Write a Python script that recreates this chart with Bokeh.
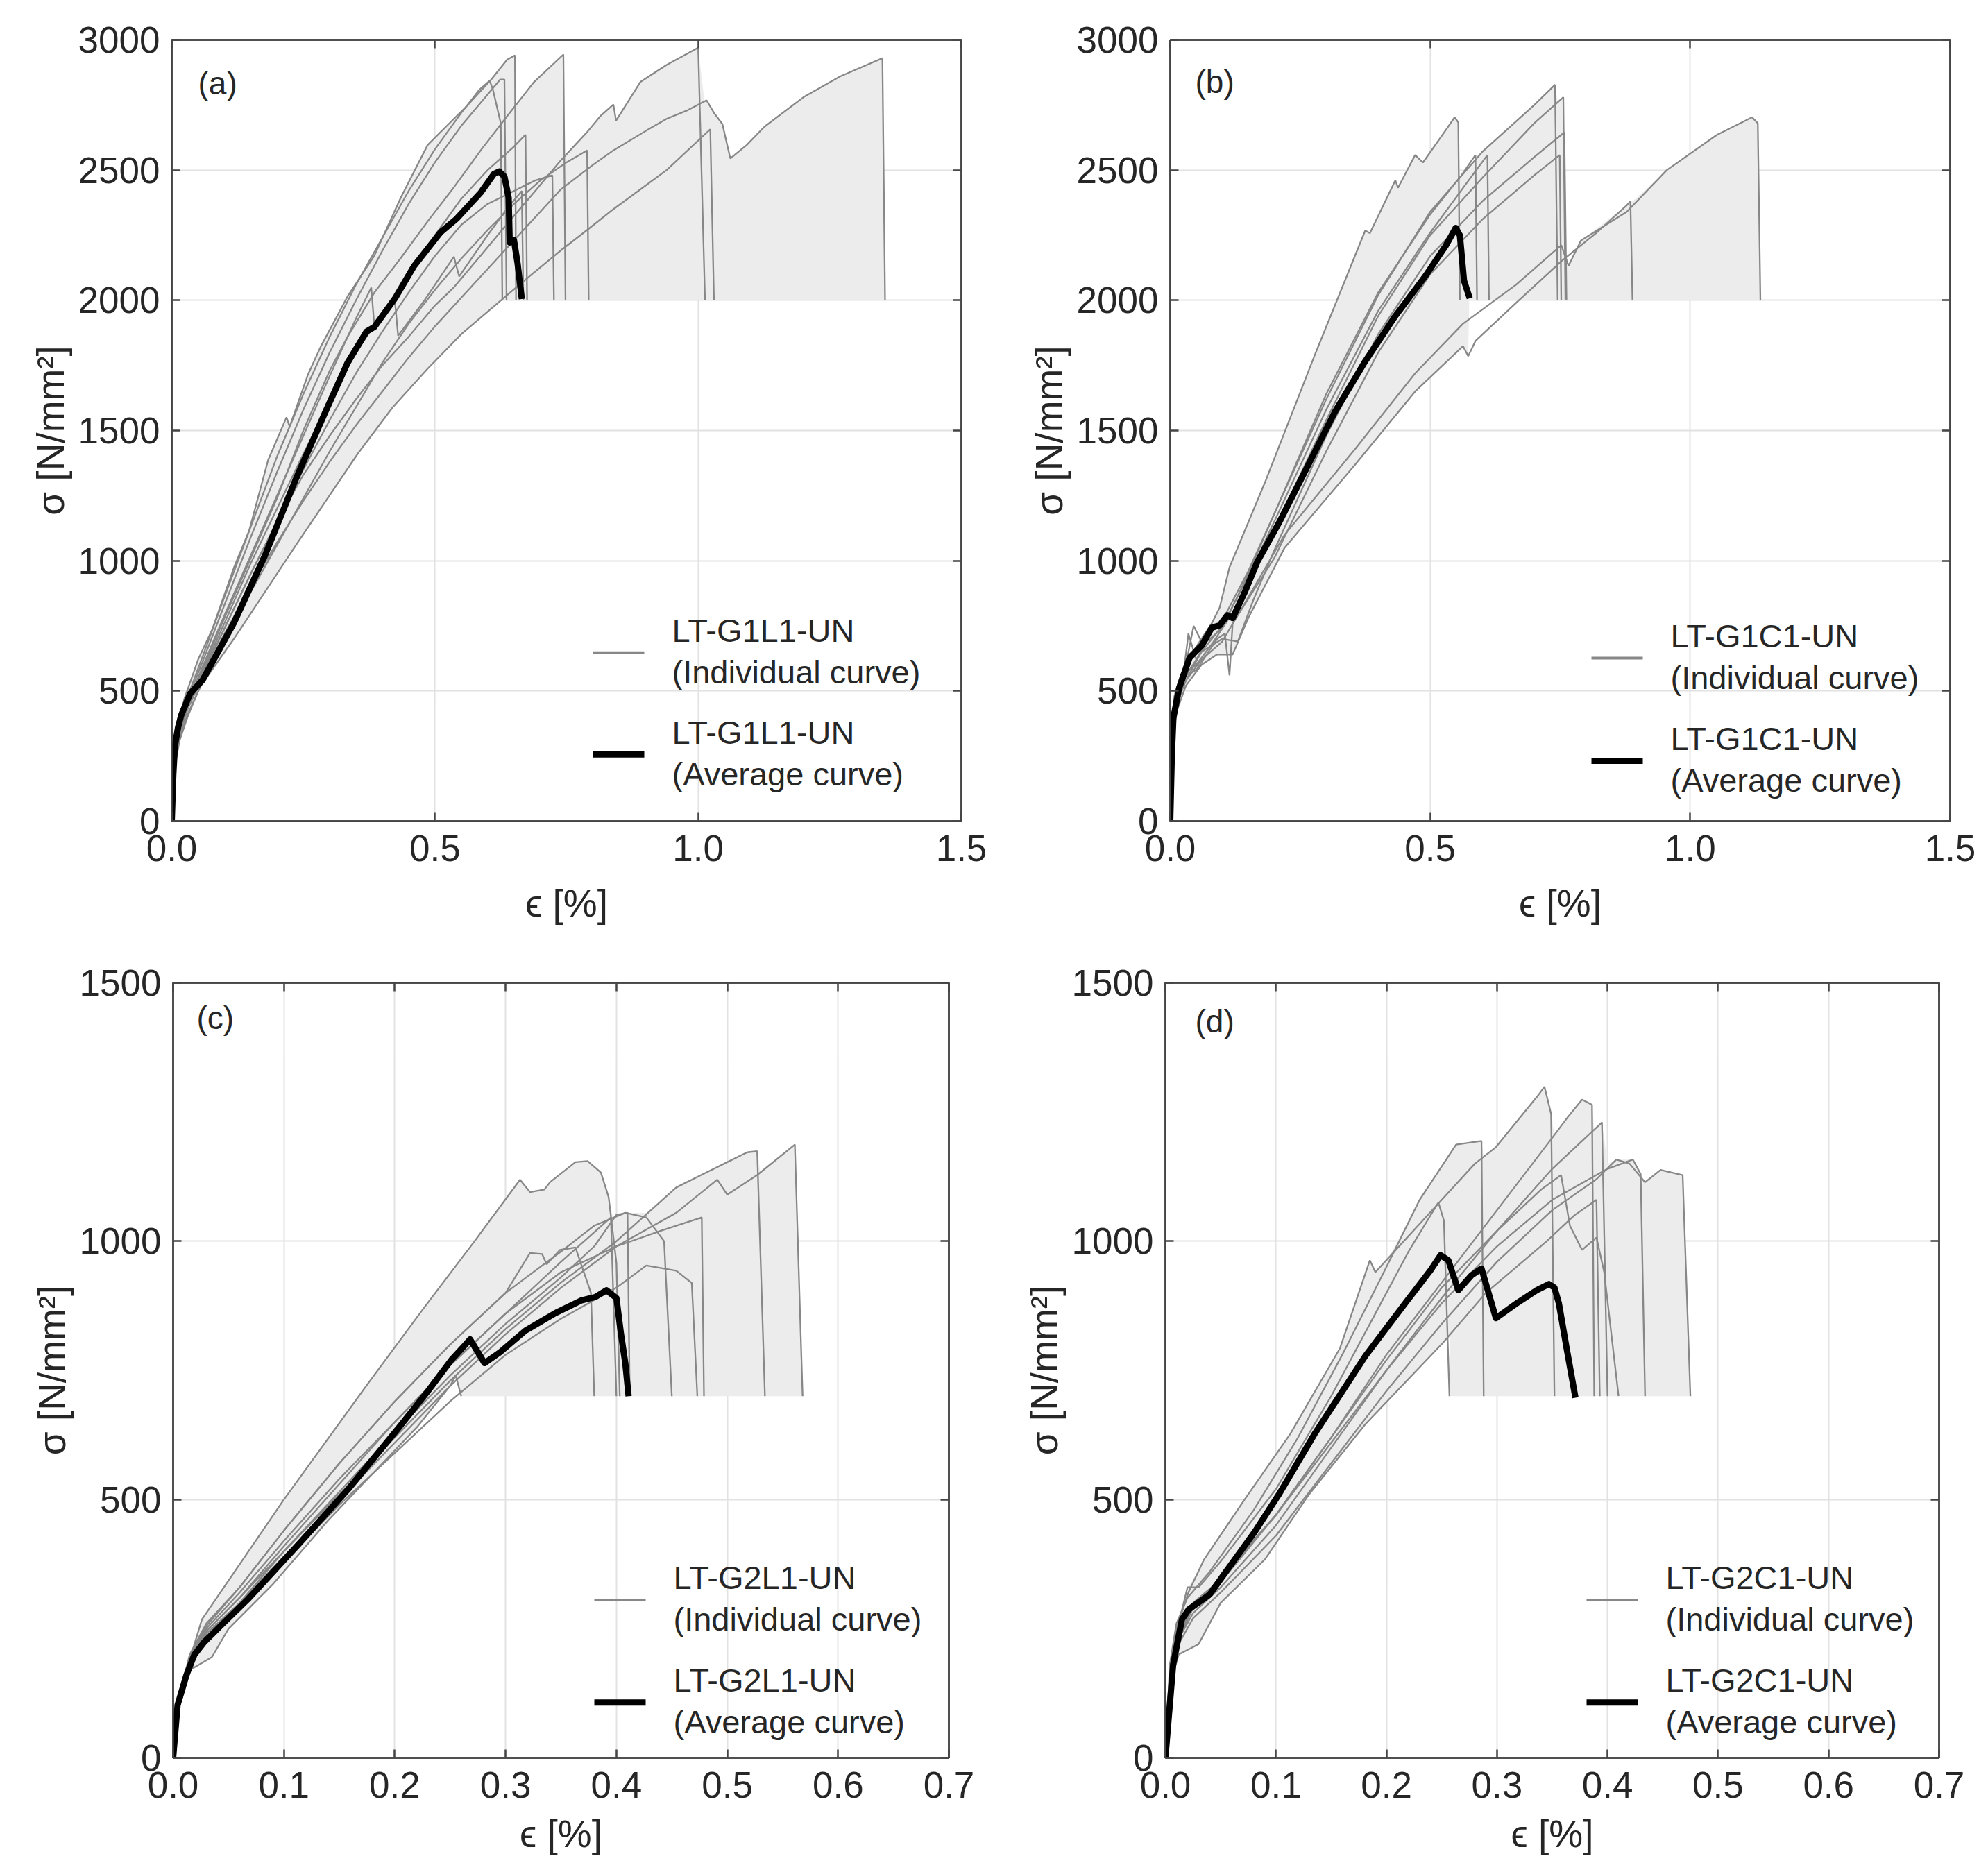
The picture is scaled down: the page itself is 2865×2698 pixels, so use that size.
from bokeh.plotting import figure
from bokeh.models import Range1d, FixedTicker, LinearAxis, Label, BoxAnnotation, NumeralTickFormatter
from bokeh.layouts import column, row
from bokeh.embed import file_html
from bokeh.resources import INLINE

# ---- data (strain in %, stress in N/mm2) ----

# tick values
G1_EPS_TICKS = [0.0, 0.5, 1.0, 1.5]
G1_SIG_TICKS = [0, 500, 1000, 1500, 2000, 2500, 3000]
G2_EPS_TICKS = [0.0, 0.1, 0.2, 0.3, 0.4, 0.5, 0.6, 0.7]
G2_SIG_TICKS = [0, 500, 1000, 1500]

SERIES_NAMES = ["LT-G1L1-UN", "LT-G1C1-UN", "LT-G2L1-UN", "LT-G2C1-UN"]
PANEL_TAGS = ["(a)", "(b)", "(c)", "(d)"]

# (a) LT-G1L1-UN individual curves
A_IND_EPS = [
    [0, 0.005, 0.012, 0.024, 0.05, 0.077, 0.118, 0.147, 0.183, 0.218, 0.224, 0.259, 0.283, 0.334, 0.385, 0.435, 0.486, 0.516, 0.561, 0.607, 0.637, 0.652, 0.654],
    [0, 0.005, 0.012, 0.025, 0.06, 0.1, 0.15, 0.2, 0.25, 0.3, 0.35, 0.4, 0.45, 0.5, 0.55, 0.585, 0.604, 0.61, 0.625, 0.628],
    [0, 0.005, 0.012, 0.025, 0.06, 0.1, 0.15, 0.2, 0.25, 0.3, 0.35, 0.4, 0.45, 0.5, 0.55, 0.6, 0.624, 0.632, 0.636],
    [0, 0.005, 0.012, 0.03, 0.06, 0.1, 0.15, 0.2, 0.25, 0.3, 0.334, 0.385, 0.435, 0.486, 0.536, 0.587, 0.637, 0.688, 0.744, 0.748],
    [0, 0.005, 0.012, 0.03, 0.06, 0.1, 0.15, 0.2, 0.25, 0.3, 0.35, 0.4, 0.45, 0.5, 0.536, 0.587, 0.637, 0.688, 0.738, 0.789, 0.814, 0.839, 0.844, 0.89, 0.94, 1.0, 1.013],
    [0, 0.005, 0.012, 0.03, 0.06, 0.1, 0.15, 0.2, 0.25, 0.3, 0.35, 0.4, 0.45, 0.5, 0.55, 0.6, 0.65, 0.7, 0.738, 0.8, 0.839, 0.9, 0.94, 0.98, 1.016, 1.031, 1.046, 1.061, 1.092, 1.126, 1.2, 1.27, 1.35, 1.355],
    [0, 0.005, 0.015, 0.03, 0.053, 0.118, 0.236, 0.353, 0.42, 0.486, 0.55, 0.637, 0.69, 0.738, 0.789, 0.839, 0.94, 1.023, 1.03],
    [0, 0.005, 0.012, 0.03, 0.06, 0.1, 0.15, 0.2, 0.25, 0.3, 0.35, 0.379, 0.385, 0.43, 0.5, 0.55, 0.6, 0.65, 0.672, 0.675],
    [0, 0.005, 0.015, 0.03, 0.06, 0.1, 0.15, 0.2, 0.25, 0.3, 0.35, 0.4, 0.424, 0.43, 0.48, 0.536, 0.546, 0.6, 0.64, 0.665, 0.668],
    [0, 0.005, 0.015, 0.03, 0.06, 0.1, 0.15, 0.2, 0.25, 0.3, 0.35, 0.4, 0.45, 0.5, 0.55, 0.6, 0.65, 0.7, 0.75, 0.789, 0.792],
    [0, 0.005, 0.015, 0.03, 0.06, 0.1, 0.15, 0.2, 0.25, 0.3, 0.35, 0.4, 0.45, 0.5, 0.55, 0.6, 0.65, 0.69, 0.723, 0.726],
]
A_IND_SIG = [
    [0, 260, 360, 470, 620, 737, 973, 1115, 1386, 1551, 1515, 1716, 1822, 2015, 2172, 2394, 2596, 2657, 2747, 2848, 2924, 2941, 2000],
    [0, 250, 350, 450, 640, 860, 1130, 1400, 1640, 1860, 2060, 2240, 2420, 2580, 2720, 2810, 2843, 2810, 2680, 2000],
    [0, 240, 340, 440, 620, 830, 1090, 1340, 1580, 1800, 2000, 2190, 2370, 2530, 2670, 2790, 2848, 2848, 2000],
    [0, 230, 330, 450, 590, 780, 1010, 1240, 1500, 1730, 1860, 2030, 2162, 2303, 2434, 2576, 2707, 2838, 2944, 2000],
    [0, 230, 330, 440, 570, 740, 950, 1150, 1330, 1480, 1620, 1750, 1860, 1980, 2050, 2172, 2293, 2414, 2535, 2646, 2707, 2752, 2690, 2838, 2904, 2970, 2000],
    [0, 220, 320, 430, 560, 720, 900, 1070, 1230, 1380, 1520, 1650, 1780, 1900, 2010, 2120, 2230, 2340, 2424, 2520, 2576, 2650, 2697, 2730, 2768, 2717, 2677, 2545, 2596, 2667, 2780, 2860, 2930, 2000],
    [0, 200, 310, 400, 513, 700, 1060, 1410, 1590, 1737, 1870, 2020, 2110, 2190, 2270, 2350, 2500, 2657, 2000],
    [0, 240, 340, 450, 600, 790, 1020, 1250, 1480, 1710, 1930, 2049, 1898, 2040, 2250, 2390, 2500, 2590, 2636, 2000],
    [0, 230, 350, 440, 580, 760, 990, 1200, 1410, 1610, 1800, 1950, 1996, 1864, 2000, 2167, 2092, 2250, 2360, 2420, 2000],
    [0, 210, 320, 410, 540, 690, 880, 1060, 1240, 1420, 1590, 1760, 1910, 2040, 2160, 2270, 2370, 2460, 2530, 2576, 2000],
    [0, 230, 340, 430, 570, 740, 950, 1150, 1350, 1540, 1720, 1880, 2030, 2170, 2290, 2370, 2420, 2460, 2480, 2000],
]
A_BAND_EPS = [0, 0.005, 0.012, 0.024, 0.05, 0.077, 0.118, 0.147, 0.183, 0.218, 0.224, 0.259, 0.283, 0.334, 0.385, 0.435,
              0.486, 0.516, 0.561, 0.607, 0.637, 0.652, 0.653, 0.688, 0.744, 0.746, 0.789, 0.814, 0.839, 0.844, 0.89, 0.94,
              1.0, 1.012, 1.016, 1.031, 1.046, 1.061, 1.092, 1.126, 1.2, 1.27, 1.35, 1.355, 0.628, 0.55, 0.486, 0.42, 0.353,
              0.236, 0.118, 0.053, 0.03, 0.015, 0.005, 0]
A_BAND_SIG = [0, 260, 360, 470, 620, 737, 973, 1115, 1386, 1551, 1515, 1716, 1822, 2015, 2172, 2394,
              2596, 2657, 2747, 2848, 2924, 2941, 2748, 2838, 2944, 2552, 2646, 2707, 2752, 2690, 2838, 2904,
              2970, 2764, 2768, 2717, 2677, 2545, 2596, 2667, 2780, 2860, 2930, 2000, 2000, 1870, 1737, 1590, 1410,
              1060, 700, 513, 400, 310, 200, 0]
A_AVG_EPS = [0, 0.003, 0.006, 0.012, 0.018, 0.035, 0.059, 0.118, 0.177, 0.236, 0.295, 0.334, 0.37, 0.385, 0.425, 0.46,
             0.511, 0.541, 0.587, 0.612, 0.622, 0.632, 0.64, 0.642, 0.65, 0.657, 0.665]
A_AVG_SIG = [0, 180, 289, 360, 407, 490, 543, 761, 1020, 1315, 1586, 1760, 1880, 1898, 2010, 2131,
             2262, 2313, 2414, 2485, 2495, 2475, 2394, 2222, 2232, 2141, 2005]

# (b) LT-G1C1-UN individual curves
B_IND_EPS = [
    [0, 0.003, 0.008, 0.02, 0.04, 0.06, 0.08, 0.095, 0.114, 0.182, 0.278, 0.375, 0.384, 0.433, 0.438, 0.471, 0.486, 0.53, 0.547, 0.554, 0.557],
    [0, 0.003, 0.01, 0.025, 0.035, 0.05, 0.07, 0.1, 0.15, 0.2, 0.3, 0.4, 0.5, 0.6, 0.7, 0.74, 0.745],
    [0, 0.003, 0.01, 0.03, 0.05, 0.08, 0.12, 0.15, 0.2, 0.3, 0.4, 0.5, 0.6, 0.7, 0.756, 0.76],
    [0, 0.004, 0.012, 0.03, 0.06, 0.1, 0.13, 0.16, 0.2, 0.3, 0.4, 0.5, 0.6, 0.7, 0.758, 0.762],
    [0, 0.004, 0.012, 0.03, 0.05, 0.09, 0.105, 0.114, 0.12, 0.2, 0.3, 0.4, 0.5, 0.6, 0.7, 0.749, 0.752],
    [0, 0.004, 0.012, 0.03, 0.045, 0.06, 0.1, 0.15, 0.2, 0.3, 0.4, 0.5, 0.56, 0.587, 0.59],
    [0, 0.004, 0.012, 0.03, 0.06, 0.1, 0.15, 0.2, 0.3, 0.4, 0.5, 0.57, 0.61, 0.613],
    [0, 0.004, 0.012, 0.03, 0.06, 0.09, 0.12, 0.15, 0.22, 0.356, 0.471, 0.563, 0.573, 0.587, 0.665, 0.752, 0.82, 0.878, 0.885, 0.889],
    [0, 0.004, 0.012, 0.03, 0.06, 0.1, 0.15, 0.22, 0.356, 0.471, 0.563, 0.665, 0.752, 0.766, 0.79, 0.878, 0.955, 1.051, 1.119, 1.13, 1.135],
]
B_IND_SIG = [
    [0, 350, 480, 560, 640, 700, 760, 820, 975, 1300, 1790, 2268, 2258, 2461, 2432, 2558, 2529, 2654, 2703, 2683, 2000],
    [0, 330, 470, 560, 720, 620, 690, 740, 950, 1180, 1620, 2020, 2340, 2570, 2750, 2828, 2000],
    [0, 320, 460, 570, 600, 680, 800, 900, 1120, 1540, 1940, 2250, 2470, 2680, 2780, 2000],
    [0, 300, 450, 540, 650, 700, 690, 850, 1040, 1480, 1870, 2170, 2380, 2550, 2645, 2000],
    [0, 310, 440, 560, 580, 700, 720, 560, 760, 1010, 1420, 1800, 2100, 2310, 2480, 2558, 2000],
    [0, 330, 470, 600, 750, 690, 770, 960, 1180, 1640, 2030, 2330, 2480, 2558, 2000],
    [0, 300, 430, 560, 650, 750, 940, 1150, 1580, 1960, 2260, 2450, 2558, 2000],
    [0, 290, 420, 520, 600, 640, 640, 780, 1050, 1370, 1650, 1824, 1786, 1844, 1990, 2150, 2260, 2365, 2380, 2000],
    [0, 310, 450, 540, 620, 690, 860, 1100, 1430, 1720, 1910, 2060, 2212, 2133, 2230, 2340, 2500, 2635, 2703, 2680, 2000],
]
B_BAND_EPS = [0, 0.003, 0.008, 0.02, 0.04, 0.06, 0.08, 0.095, 0.114, 0.182, 0.278, 0.375, 0.384, 0.433, 0.438, 0.471,
              0.486, 0.53, 0.547, 0.554, 0.557, 0.6, 0.7, 0.74, 0.745, 0.756, 0.76, 0.766, 0.79, 0.878, 0.885, 0.889,
              0.955, 1.051, 1.119, 1.13, 1.135, 0.575, 0.573, 0.563, 0.471, 0.356, 0.22, 0.15, 0.12, 0.09, 0.06, 0.03,
              0.012, 0.004, 0]
B_BAND_SIG = [0, 350, 480, 560, 640, 700, 760, 820, 975, 1300, 1790, 2268, 2258, 2461, 2432, 2558,
              2529, 2654, 2703, 2683, 2471, 2570, 2750, 2828, 2760, 2780, 2200, 2133, 2230, 2365, 2380, 2380,
              2500, 2635, 2703, 2680, 2000, 2000, 1786, 1824, 1650, 1370, 1050, 780, 640, 640, 600, 520,
              420, 290, 0]
B_AVG_EPS = [0, 0.003, 0.006, 0.017, 0.037, 0.061, 0.08, 0.095, 0.11, 0.12, 0.143, 0.167, 0.21, 0.259, 0.317, 0.375,
             0.433, 0.491, 0.53, 0.549, 0.557, 0.565, 0.576]
B_AVG_SIG = [0, 250, 396, 511, 627, 676, 743, 752, 791, 780, 878, 994, 1149, 1342, 1573, 1766,
             1940, 2094, 2210, 2278, 2250, 2075, 2008]

# (c) LT-G2L1-UN individual curves
C_IND_EPS = [
    [0, 0.005, 0.015, 0.026, 0.1, 0.176, 0.226, 0.272, 0.313, 0.322, 0.335, 0.34, 0.363, 0.374, 0.386, 0.393, 0.4, 0.403],
    [0, 0.005, 0.015, 0.03, 0.06, 0.1, 0.15, 0.2, 0.25, 0.3, 0.35, 0.4, 0.454, 0.491, 0.5, 0.527, 0.561, 0.568],
    [0, 0.005, 0.015, 0.03, 0.06, 0.1, 0.15, 0.2, 0.25, 0.3, 0.35, 0.4, 0.454, 0.5, 0.518, 0.527, 0.534],
    [0, 0.005, 0.015, 0.03, 0.06, 0.1, 0.15, 0.2, 0.25, 0.3, 0.35, 0.4, 0.44, 0.477, 0.479],
    [0, 0.005, 0.015, 0.03, 0.06, 0.1, 0.15, 0.2, 0.25, 0.3, 0.35, 0.38, 0.408, 0.427, 0.443, 0.45],
    [0, 0.005, 0.015, 0.03, 0.06, 0.1, 0.15, 0.2, 0.25, 0.3, 0.35, 0.4, 0.427, 0.454, 0.468, 0.473],
    [0, 0.005, 0.015, 0.03, 0.06, 0.1, 0.15, 0.2, 0.25, 0.3, 0.322, 0.333, 0.337, 0.349, 0.363, 0.377, 0.38],
    [0, 0.005, 0.015, 0.03, 0.06, 0.1, 0.15, 0.2, 0.25, 0.3, 0.35, 0.395, 0.4],
    [0, 0.005, 0.015, 0.03, 0.06, 0.1, 0.15, 0.2, 0.25, 0.3, 0.35, 0.38, 0.4, 0.41, 0.412],
    [0, 0.005, 0.015, 0.035, 0.05, 0.09, 0.14, 0.18, 0.22, 0.25, 0.255, 0.26],
]
C_IND_SIG = [
    [0, 110, 190, 268, 500, 725, 870, 1000, 1119, 1095, 1100, 1114, 1153, 1155, 1133, 1085, 958, 700],
    [0, 100, 180, 240, 300, 390, 500, 610, 720, 820, 910, 990, 1055, 1119, 1090, 1128, 1187, 700],
    [0, 105, 185, 245, 310, 400, 510, 620, 730, 830, 920, 1000, 1104, 1153, 1172, 1174, 700],
    [0, 110, 190, 250, 320, 420, 540, 650, 760, 860, 940, 990, 1020, 1046, 700],
    [0, 110, 195, 255, 330, 440, 570, 690, 800, 900, 980, 1030, 1055, 1046, 1000, 700],
    [0, 100, 175, 230, 290, 380, 490, 590, 690, 780, 850, 910, 953, 943, 919, 700],
    [0, 115, 200, 260, 330, 440, 570, 690, 800, 900, 977, 975, 955, 983, 988, 900, 700],
    [0, 105, 185, 245, 310, 410, 530, 650, 760, 860, 960, 1046, 700],
    [0, 100, 180, 240, 300, 400, 515, 630, 740, 840, 930, 990, 1051, 1055, 700],
    [0, 95, 170, 195, 250, 336, 460, 550, 640, 720, 740, 700],
]
C_BAND_EPS = [0, 0.005, 0.015, 0.026, 0.1, 0.176, 0.226, 0.272, 0.313, 0.322, 0.335, 0.34, 0.363, 0.374, 0.386, 0.393,
              0.397, 0.41, 0.427, 0.454, 0.5, 0.518, 0.527, 0.53, 0.561, 0.568, 0.26, 0.255, 0.25, 0.22, 0.18, 0.14,
              0.09, 0.05, 0.035, 0.015, 0.005, 0]
C_BAND_SIG = [0, 110, 190, 268, 500, 725, 870, 1000, 1119, 1095, 1100, 1114, 1153, 1155, 1133, 1085,
              1045, 1055, 1055, 1104, 1153, 1172, 1174, 1133, 1187, 700, 700, 740, 720, 640, 550, 460,
              336, 250, 195, 170, 95, 0]
C_AVG_EPS = [0, 0.004, 0.012, 0.019, 0.028, 0.044, 0.067, 0.113, 0.158, 0.204, 0.23, 0.251, 0.263, 0.268, 0.281, 0.295,
             0.318, 0.345, 0.368, 0.381, 0.391, 0.4, 0.404, 0.408, 0.411]
C_AVG_SIG = [0, 102, 160, 199, 224, 258, 306, 413, 520, 640, 710, 770, 798, 810, 764, 785,
             827, 861, 885, 892, 905, 890, 822, 764, 700]

# (d) LT-G2C1-UN individual curves
D_IND_EPS = [
    [0, 0.004, 0.01, 0.021, 0.035, 0.072, 0.113, 0.158, 0.185, 0.19, 0.22, 0.25, 0.28, 0.299, 0.336, 0.343, 0.349, 0.352],
    [0, 0.004, 0.01, 0.02, 0.04, 0.08, 0.12, 0.16, 0.2, 0.23, 0.263, 0.286, 0.288],
    [0, 0.005, 0.012, 0.025, 0.05, 0.1, 0.15, 0.2, 0.25, 0.3, 0.35, 0.364, 0.377, 0.386, 0.388],
    [0, 0.005, 0.012, 0.025, 0.05, 0.1, 0.15, 0.2, 0.25, 0.3, 0.35, 0.395, 0.4],
    [0, 0.005, 0.012, 0.025, 0.05, 0.1, 0.15, 0.2, 0.25, 0.3, 0.35, 0.39, 0.408, 0.42, 0.434, 0.448, 0.468, 0.475],
    [0, 0.005, 0.012, 0.025, 0.05, 0.1, 0.15, 0.2, 0.25, 0.3, 0.35, 0.4, 0.423, 0.43, 0.434],
    [0, 0.005, 0.012, 0.025, 0.05, 0.1, 0.15, 0.2, 0.25, 0.3, 0.34, 0.358, 0.366, 0.377, 0.39, 0.397, 0.41],
    [0, 0.005, 0.012, 0.02, 0.03, 0.05, 0.1, 0.15, 0.19, 0.22, 0.247, 0.252, 0.257],
    [0, 0.004, 0.012, 0.03, 0.05, 0.09, 0.13, 0.181, 0.251, 0.29, 0.345, 0.37, 0.39, 0.393],
]
D_IND_SIG = [
    [0, 170, 250, 321, 384, 501, 627, 793, 963, 940, 1010, 1080, 1150, 1182, 1279, 1299, 1246, 700],
    [0, 180, 260, 310, 360, 480, 620, 780, 950, 1080, 1187, 1194, 700],
    [0, 170, 240, 290, 340, 470, 620, 780, 920, 1060, 1200, 1240, 1274, 1264, 700],
    [0, 160, 230, 280, 330, 450, 600, 750, 890, 1020, 1140, 1230, 700],
    [0, 150, 220, 270, 320, 430, 570, 710, 840, 960, 1060, 1120, 1158, 1150, 1114, 1138, 1128, 700],
    [0, 160, 230, 290, 350, 470, 610, 750, 880, 990, 1080, 1140, 1158, 1130, 700],
    [0, 170, 250, 300, 345, 470, 620, 770, 910, 1020, 1100, 1128, 1030, 983, 1007, 940, 700],
    [0, 180, 260, 330, 330, 380, 520, 700, 860, 980, 1075, 1040, 700],
    [0, 140, 200, 220, 300, 384, 510, 646, 803, 900, 1000, 1050, 1080, 700],
]
D_BAND_EPS = [0, 0.005, 0.012, 0.021, 0.035, 0.072, 0.113, 0.158, 0.185, 0.19, 0.2, 0.23, 0.263, 0.286, 0.288, 0.299,
              0.336, 0.343, 0.349, 0.352, 0.364, 0.377, 0.386, 0.388, 0.395, 0.4, 0.408, 0.423, 0.43, 0.434, 0.448,
              0.468, 0.475, 0.257, 0.257, 0.251, 0.181, 0.13, 0.09, 0.05, 0.03, 0.012, 0.004, 0]
D_BAND_SIG = [0, 180, 260, 330, 384, 501, 627, 793, 963, 945, 960, 1080, 1187, 1194, 1160, 1182,
              1279, 1299, 1246, 1205, 1240, 1274, 1264, 1215, 1230, 1150, 1158, 1158, 1130, 1114, 1138,
              1128, 700, 700, 815, 803, 646, 510, 384, 300, 220, 200, 140, 0]
D_AVG_EPS = [0, 0.007, 0.015, 0.021, 0.04, 0.053, 0.081, 0.103, 0.135, 0.181, 0.217, 0.24, 0.249, 0.256, 0.265, 0.277,
             0.286, 0.299, 0.318, 0.336, 0.347, 0.352, 0.356, 0.363, 0.371]
D_AVG_SIG = [0, 180, 268, 287, 316, 355, 438, 511, 627, 778, 880, 944, 973, 963, 905, 934,
             947, 851, 880, 905, 917, 910, 880, 793, 697]

# ---- styling ----
FONT = "Liberation Sans"
TXT = "#262626"
FRAME = "#454545"
GRID = "#e2e2e2"
IND_COLOR = "#878787"
FILL_COLOR = "#ececec"


def style_axis(ax, label_size, standoff):
    ax.axis_line_color = FRAME
    ax.axis_line_width = 2.5
    ax.major_tick_in = 12
    ax.major_tick_out = 0
    ax.major_tick_line_color = FRAME
    ax.major_tick_line_width = 2.5
    ax.minor_tick_line_color = None
    ax.major_label_text_font = FONT
    ax.major_label_text_font_size = label_size
    ax.major_label_text_color = TXT
    ax.major_label_standoff = standoff


def make_panel(tag, name, eps_max, sig_max, eps_ticks, sig_ticks, ind_eps, ind_sig,
               band_eps, band_sig, avg_eps, avg_sig, size, borders, tag_px, xlabel_gap):
    left, right, top, bottom = borders
    fw = size[0] - left - right
    fh = size[1] - top - bottom

    # pixel offset from the frame's top-left corner -> data coordinates
    def at(px, py):
        return eps_max * px / fw, sig_max * (1 - py / fh)

    p = figure(width=size[0], height=size[1], x_range=Range1d(0, eps_max), y_range=Range1d(0, sig_max),
               output_backend="svg", toolbar_location=None, tools="",
               min_border_left=left, min_border_right=right, min_border_top=top, min_border_bottom=bottom)
    p.background_fill_color = "white"
    p.border_fill_color = "white"
    p.outline_line_color = FRAME
    p.outline_line_width = 2.5

    p.xaxis.ticker = FixedTicker(ticks=eps_ticks)
    p.yaxis.ticker = FixedTicker(ticks=sig_ticks)
    p.xaxis.formatter = NumeralTickFormatter(format="0.0")
    style_axis(p.xaxis[0], "53px", 20)
    style_axis(p.yaxis[0], "53px", 17)
    p.xaxis.axis_label = "\u03f5 [%]"
    p.yaxis.axis_label = "\u03c3 [N/mm\u00b2]"
    for ax in (p.xaxis[0], p.yaxis[0]):
        ax.axis_label_text_font = FONT
        ax.axis_label_text_font_size = "55px"
        ax.axis_label_text_font_style = "normal"
        ax.axis_label_text_color = TXT
    p.xaxis.axis_label_standoff = xlabel_gap
    p.yaxis.axis_label_standoff = 6

    # box ticks on top and right
    top_ax = LinearAxis(ticker=FixedTicker(ticks=eps_ticks))
    right_ax = LinearAxis(ticker=FixedTicker(ticks=sig_ticks))
    for ax in (top_ax, right_ax):
        style_axis(ax, "0px", 0)
        ax.major_label_text_alpha = 0
    p.add_layout(top_ax, "above")
    p.add_layout(right_ax, "right")

    p.xgrid.grid_line_color = GRID
    p.ygrid.grid_line_color = GRID
    p.xgrid.grid_line_width = 2
    p.ygrid.grid_line_width = 2

    p.patch(band_eps, band_sig, fill_color=FILL_COLOR, line_color=None)
    for xs, ys in zip(ind_eps, ind_sig):
        p.line(xs, ys, line_color=IND_COLOR, line_width=2.3)
    p.line(avg_eps, avg_sig, line_color="black", line_width=9, line_join="round")

    tx, ty = at(*tag_px)
    p.add_layout(Label(x=tx, y=ty, text=tag, text_font=FONT, text_font_size="46px",
                       text_color=TXT, text_align="left", text_baseline="middle"))

    # legend block (two-line entries, as in the original)
    for gy, color, thick, lines in ((891, IND_COLOR, 4, (name, "(Individual curve)")),
                                    (1039, "black", 9, (name, "(Average curve)"))):
        x0, y0 = at(607, gy - thick / 2)
        x1, y1 = at(681, gy + thick / 2)
        p.add_layout(BoxAnnotation(left=x0, right=x1, top=y0, bottom=y1,
                                   fill_color=color, fill_alpha=1, line_color=None))
        for k, txt in enumerate(lines):
            lx, ly = at(721, gy - 32 + 60 * k)
            p.add_layout(Label(x=lx, y=ly, text=txt, text_font=FONT, text_font_size="47px",
                               text_color=TXT, text_align="left", text_baseline="middle"))
    return p


pa = make_panel(PANEL_TAGS[0], SERIES_NAMES[0], 1.5, 3000, G1_EPS_TICKS, G1_SIG_TICKS, A_IND_EPS, A_IND_SIG,
                A_BAND_EPS, A_BAND_SIG, A_AVG_EPS, A_AVG_SIG, (1440, 1364), (247, 55, 56, 172), (38, 63), 27)
pb = make_panel(PANEL_TAGS[1], SERIES_NAMES[1], 1.5, 3000, G1_EPS_TICKS, G1_SIG_TICKS, B_IND_EPS, B_IND_SIG,
                B_BAND_EPS, B_BAND_SIG, B_AVG_EPS, B_AVG_SIG, (1409, 1364), (246, 39, 57, 181), (36, 60), 27)
pc = make_panel(PANEL_TAGS[2], SERIES_NAMES[2], 0.7, 1500, G2_EPS_TICKS, G2_SIG_TICKS, C_IND_EPS, C_IND_SIG,
                C_BAND_EPS, C_BAND_SIG, C_AVG_EPS, C_AVG_SIG, (1440, 1318), (249, 73, 50, 149), (34, 51), 18)
pd_ = make_panel(PANEL_TAGS[3], SERIES_NAMES[3], 0.7, 1500, G2_EPS_TICKS, G2_SIG_TICKS, D_IND_EPS, D_IND_SIG,
                 D_BAND_EPS, D_BAND_SIG, D_AVG_EPS, D_AVG_SIG, (1409, 1318), (239, 55, 52, 147), (43, 56), 18)

layout = column(row(pa, pb, spacing=0), row(pc, pd_, spacing=0), spacing=0)
open("out.html", "w").write(file_html(layout, INLINE))
